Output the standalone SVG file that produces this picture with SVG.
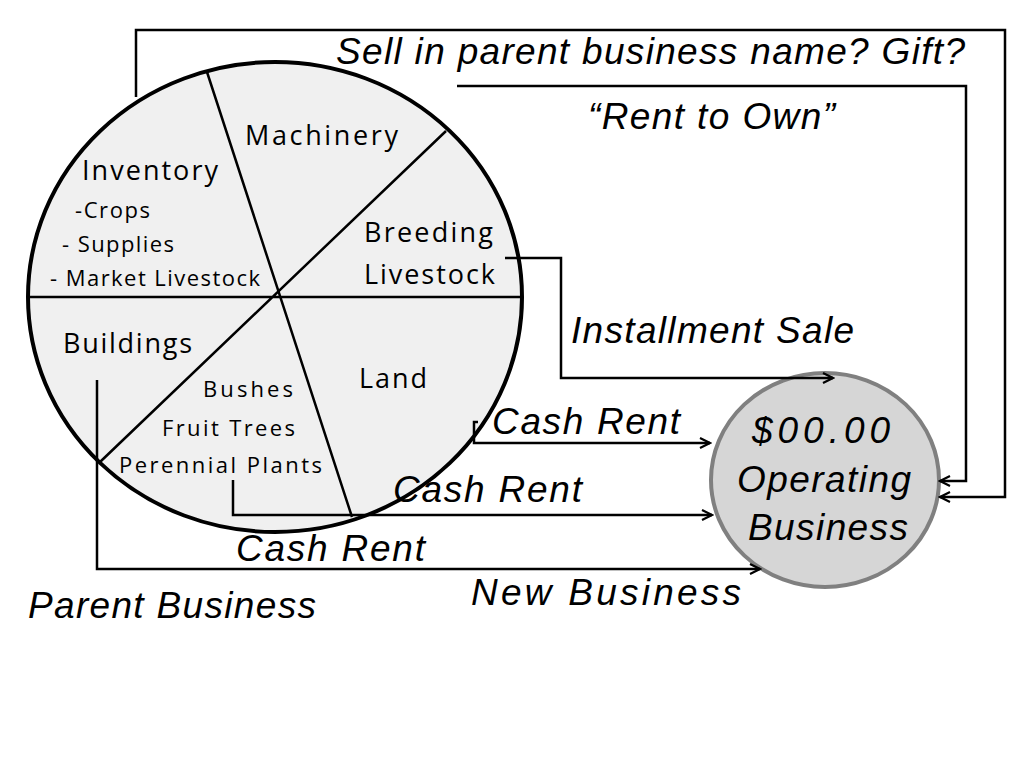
<svg xmlns="http://www.w3.org/2000/svg" width="1024" height="768" viewBox="0 0 1024 768">
<style>
.c{fill:none;stroke:#000;stroke-width:2.5}
.a{marker-end:url(#ah)}
.pie{font-family:"Open Sans","DejaVu Sans",sans-serif;font-size:27px;fill:#000}
.ps{font-family:"Open Sans","DejaVu Sans",sans-serif;font-size:22px;fill:#000}
.it{font-family:"Liberation Sans",Arial,sans-serif;font-style:italic;font-size:37px;fill:#000}
</style>
<defs>
<marker id="ah" markerWidth="14" markerHeight="14" refX="12" refY="7" orient="auto" markerUnits="userSpaceOnUse">
<path d="M2,2 L12,7 L2,12" fill="none" stroke="#000" stroke-width="2.2"/>
</marker>
</defs>
<rect width="1024" height="768" fill="#fff"/>
<g id="pie">
<ellipse cx="275" cy="297" rx="247" ry="235" fill="#f0f0f0" stroke="#000" stroke-width="4"/>
<path d="M207,72 L352,517 M446,131 L100,462 M28,297 L522,297" stroke="#000" stroke-width="2.5" fill="none"/>
<text class="pie" x="245" y="145" textLength="153">Machinery</text>
<text class="pie" x="82" y="180" textLength="136">Inventory</text>
<text class="ps" x="75" y="218" textLength="75">-Crops</text>
<text class="ps" x="62" y="252" textLength="112">- Supplies</text>
<text class="ps" x="50" y="286" textLength="210">- Market Livestock</text>
<text class="pie" x="364" y="242" textLength="129">Breeding</text>
<text class="pie" x="364" y="284" textLength="131">Livestock</text>
<text class="pie" x="63" y="353" textLength="129">Buildings</text>
<text class="pie" x="359" y="388" textLength="68">Land</text>
<text class="ps" x="203" y="397" textLength="90">Bushes</text>
<text class="ps" x="162" y="436" textLength="133">Fruit Trees</text>
<text class="ps" x="119" y="473" textLength="203">Perennial Plants</text>
</g>
<g id="business">
<ellipse cx="825" cy="480" rx="114" ry="107" fill="#d6d6d6" stroke="#808080" stroke-width="4"/>
<text class="it" x="752" y="443" font-size="42" textLength="138">$00.00</text>
<text class="it" x="737" y="492" textLength="174">Operating</text>
<text class="it" x="748" y="540" textLength="160">Business</text>
</g>
<g id="connectors">
<path class="c a" d="M136,97 V30 H1005 V497 H940"/>
<path class="c a" d="M457,86 H966 V481 H940"/>
<path class="c a" d="M505,258 H561 V378 H833"/>
<path class="c a" d="M478,422 H474 V443 H710"/>
<path class="c a" d="M233,480 V515 H712"/>
<path class="c a" d="M97,380 V569 H760"/>
</g>
<g id="labels">
<text class="it" x="336" y="64" textLength="629">Sell in parent business name? Gift?</text>
<text class="it" x="588" y="129" textLength="247">“Rent to Own”</text>
<text class="it" x="571" y="343" textLength="283">Installment Sale</text>
<text class="it" x="492" y="434" textLength="188">Cash Rent</text>
<text class="it" x="393" y="502" textLength="189">Cash Rent</text>
<text class="it" x="236" y="561" textLength="189">Cash Rent</text>
<text class="it" x="471" y="605" textLength="270">New Business</text>
<text class="it" x="28" y="618" textLength="288">Parent Business</text>
</g>
</svg>
